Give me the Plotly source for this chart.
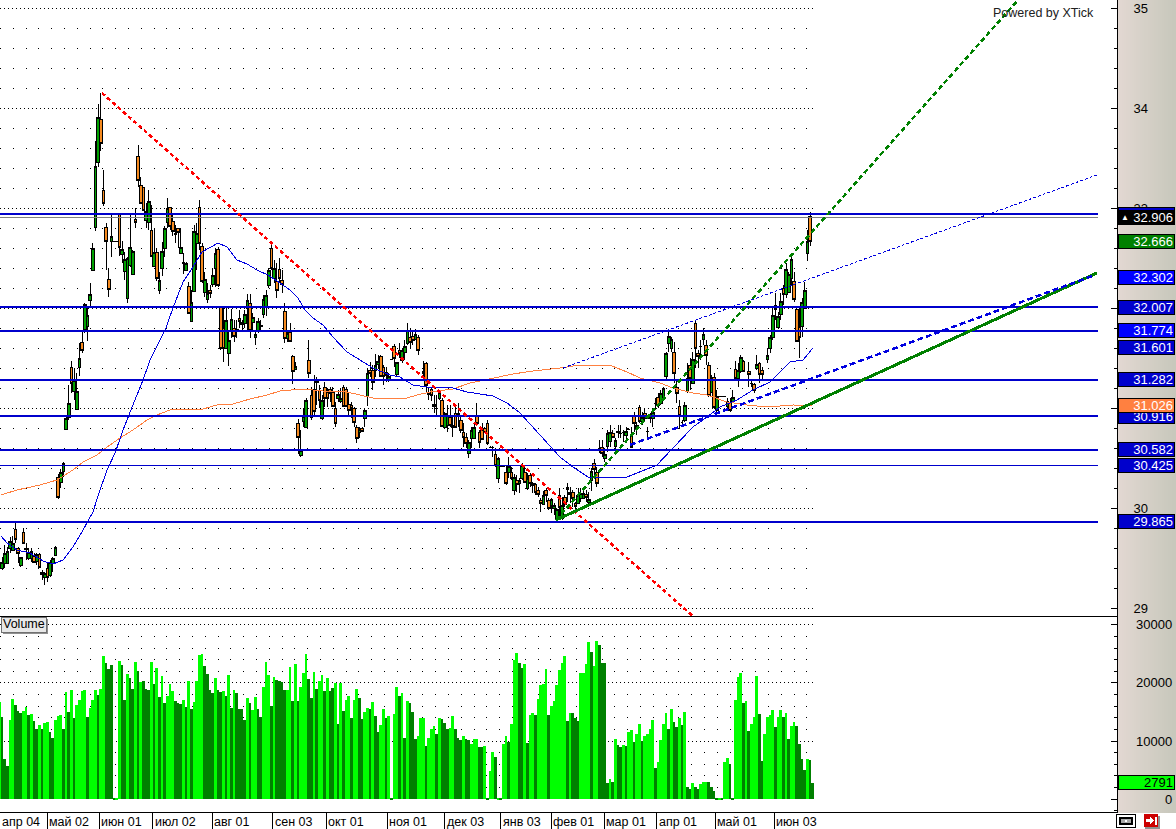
import plotly.graph_objects as go

W, H = 1176, 829

# ---------- candles (index = bar number, "-" = no bar) ----------
bar_kind = ("-gggggoogo" "oggogoogog" "ggoggggogg" "goggggggoo" "oogooogggg"
            "gooooggogo" "ggggoogogo" "gogggooggo" "ggooogggoo" "ooggogggog"
            "ggogoooogo" "ogogggoooo" "ogoooooggo" "ooooogoggo" "oggooogoog"
            "ogggoogo-o" "ooooogoggo" "gooooogggo" "ooooooogoo" "ogogoggogo"
            "oooogooggg" "ogoogooggg" "oggooooggg" "ogooogooog" "ogooogoogg"
            "gggooooggo" "gooogoogog" "ooogogoggo" "-ooogoo-gg" "goggogggoo" "ogggo")

body_top = [
    None,29.46,29.55,29.57,29.67,29.65,29.79,29.60,29.51,29.76,
    29.60,29.56,29.57,29.52,29.54,29.54,29.36,29.35,29.40,29.46,
    29.50,29.61,30.31,30.36,30.45,30.90,31.05,31.41,31.28,31.17,
    31.50,31.66,32.04,31.93,32.14,32.60,33.42,33.91,33.89,33.18,
    32.81,32.29,32.72,32.67,32.67,32.95,32.59,32.49,32.50,32.61,
    32.57,32.89,33.52,33.23,33.21,32.97,33.07,32.78,32.56,32.56,
    32.28,32.57,32.80,33.00,33.01,32.87,32.75,32.80,32.61,32.46,
    32.45,32.22,32.06,32.77,32.75,33.01,32.62,32.29,32.15,32.18,
    32.33,32.55,32.59,32.01,31.80,31.88,31.68,31.89,31.80,31.79,
    31.90,31.86,31.94,32.08,32.05,31.91,31.74,31.87,31.83,32.09,
    32.13,32.38,32.60,32.40,32.27,32.39,32.28,31.97,31.75,31.76,
    31.52,31.42,30.85,30.58,30.92,31.08,31.48,31.13,31.19,31.27,
    31.18,31.08,31.21,31.16,31.19,31.16,31.00,31.14,31.10,31.21,
    31.19,31.04,31.03,31.00,30.81,30.79,30.80,30.98,31.35,31.38,
    31.38,31.43,31.47,31.52,31.41,31.36,31.32,31.49,31.62,31.46,
    31.58,31.58,31.62,31.78,31.71,31.72,31.74,31.71,None,31.37,
    31.45,31.15,31.19,31.04,31.00,31.16,31.08,30.95,30.93,30.91,
    30.83,30.95,30.95,30.88,30.76,30.71,30.66,30.78,30.81,30.92,
    30.76,30.78,30.80,30.85,30.61,30.61,30.54,30.50,30.42,30.42,
    30.36,30.42,30.36,30.31,30.28,30.28,30.43,30.36,30.30,30.33,
    30.25,30.24,30.18,30.08,30.13,30.18,30.08,30.09,30.03,29.99,
    30.13,30.03,30.11,30.21,30.16,30.16,30.05,30.13,30.15,30.15,
    30.14,30.09,30.37,30.45,30.36,30.60,30.61,30.54,30.75,30.76,
    30.75,30.68,30.77,30.75,30.76,30.77,30.79,30.73,30.92,30.83,
    31.01,30.91,30.95,30.77,30.93,30.96,31.05,31.11,31.15,31.20,
    31.55,31.72,31.69,31.56,31.21,31.02,30.86,31.03,31.30,31.43,
    31.49,31.85,31.55,31.62,31.74,31.63,31.43,31.30,31.31,31.12,
    31.12,31.12,31.12,31.07,31.06,31.11,31.39,31.38,31.51,31.47,
    None,31.37,31.25,31.24,31.44,31.45,31.38,None,31.53,31.71,
    31.93,32.03,31.92,32.07,32.20,32.39,32.34,32.49,32.27,31.99,
    31.81,32.06,32.18,32.67,32.92]
body_bot = [
    None,29.40,29.45,29.45,29.60,29.58,29.69,29.55,29.43,29.65,
    29.59,29.50,29.50,29.46,29.47,29.41,29.34,29.31,29.31,29.33,
    29.45,29.53,30.11,30.26,30.37,30.79,30.91,31.25,31.17,30.99,
    31.41,31.58,31.79,31.82,32.08,32.38,32.81,33.46,33.65,33.05,
    32.67,32.19,32.67,32.67,32.67,32.61,32.54,32.37,32.10,32.43,
    32.34,32.86,33.28,33.05,32.98,32.88,32.86,32.52,32.42,32.30,
    32.18,32.40,32.60,32.86,32.82,32.77,32.74,32.76,32.55,32.45,
    32.38,31.95,31.87,32.17,32.65,32.65,32.27,32.16,32.09,32.15,
    32.24,32.40,32.23,31.60,31.60,31.60,31.55,31.78,31.72,31.77,
    31.87,31.84,31.85,32.00,31.78,31.86,31.71,31.78,31.82,31.94,
    32.01,32.23,32.40,32.30,32.18,32.30,32.24,31.70,31.70,31.67,
    31.37,31.39,30.71,30.53,30.87,30.81,31.35,30.91,30.97,31.26,
    31.08,30.90,31.10,31.10,31.15,31.02,30.85,31.10,31.07,31.02,
    31.02,30.98,31.00,30.86,30.70,30.76,30.77,30.90,31.12,31.35,
    31.26,31.38,31.44,31.32,31.32,31.33,31.29,31.49,31.50,31.34,
    31.55,31.48,31.56,31.65,31.66,31.68,31.69,31.58,None,31.35,
    31.23,31.14,31.13,31.02,31.00,31.10,30.82,30.81,30.83,30.83,
    30.81,30.81,30.94,30.78,30.71,30.65,30.55,30.70,30.70,30.85,
    30.66,30.69,30.76,30.65,30.61,30.61,30.43,30.30,30.42,30.42,
    30.25,30.36,30.30,30.18,30.24,30.25,30.30,30.26,30.20,30.25,
    30.23,30.16,30.14,30.05,30.04,30.13,30.00,30.03,30.00,29.90,
    30.01,29.90,30.04,30.19,30.14,30.10,30.02,30.05,30.10,30.10,
    30.11,30.06,30.28,30.39,30.25,30.60,30.55,30.50,30.62,30.67,
    30.71,30.62,30.76,30.75,30.76,30.73,30.79,30.61,30.85,30.80,
    30.87,30.87,30.90,30.77,30.90,30.90,31.05,31.03,31.05,31.11,
    31.32,31.65,31.60,31.35,31.15,30.93,30.86,30.88,31.17,31.30,
    31.25,31.60,31.52,31.62,31.69,31.53,31.13,31.16,31.01,30.98,
    31.12,31.12,31.12,31.02,30.98,31.07,31.30,31.30,31.37,31.37,
    None,31.34,31.25,31.18,31.40,31.34,31.34,None,31.49,31.60,
    31.71,31.99,31.81,31.94,32.14,32.14,32.16,32.30,32.09,31.67,
    31.71,31.82,32.00,32.55,32.67]
wick_high = [
    None,29.51,29.63,29.61,29.71,29.72,29.87,29.61,29.51,29.80,
    29.65,29.60,29.60,29.55,29.55,29.55,29.38,29.36,29.46,29.48,
    29.51,29.62,30.34,30.39,30.46,30.91,31.23,31.47,31.40,31.35,
    31.65,31.78,32.05,32.00,32.25,32.65,33.67,34.04,34.15,33.38,
    32.85,32.40,32.93,32.67,32.67,32.95,32.67,32.56,32.51,32.93,
    32.58,33.00,33.63,33.31,33.21,33.05,33.18,33.03,32.80,32.60,
    32.36,32.66,32.82,33.10,33.01,32.93,32.83,32.80,32.80,32.55,
    32.46,32.26,32.18,32.83,32.85,33.08,32.65,32.36,32.25,32.23,
    32.40,32.60,32.61,32.01,32.00,32.01,31.78,31.99,31.88,31.88,
    31.98,31.88,31.98,32.14,32.14,31.95,31.78,31.90,31.88,32.13,
    32.18,32.40,32.65,32.48,32.45,32.50,32.38,32.05,31.78,31.85,
    31.53,31.46,30.89,30.78,31.00,31.10,31.68,31.21,31.33,31.31,
    31.23,31.13,31.26,31.20,31.21,31.21,31.06,31.18,31.20,31.23,
    31.21,31.15,31.06,31.01,30.83,30.81,30.81,31.00,31.40,31.46,
    31.43,31.54,31.53,31.53,31.43,31.41,31.35,31.49,31.64,31.46,
    31.65,31.60,31.68,31.85,31.80,31.76,31.79,31.73,None,31.47,
    31.46,31.20,31.20,31.13,31.13,31.18,31.10,30.96,31.03,31.03,
    30.91,31.01,31.05,30.93,30.85,30.75,30.68,30.81,30.85,31.05,
    30.78,30.85,30.81,30.88,30.62,30.62,30.60,30.51,30.42,30.42,
    30.43,30.51,30.41,30.34,30.33,30.30,30.45,30.43,30.35,30.35,
    30.26,30.25,30.21,30.10,30.17,30.20,30.10,30.10,30.05,30.00,
    30.20,30.11,30.13,30.25,30.21,30.18,30.06,30.20,30.20,30.20,
    30.18,30.16,30.40,30.49,30.41,30.68,30.68,30.60,30.78,30.83,
    30.78,30.70,30.83,30.83,30.78,30.81,30.80,30.81,30.96,30.86,
    31.03,30.96,31.00,30.81,30.95,30.98,31.10,31.15,31.18,31.21,
    31.56,31.76,31.71,31.66,31.28,31.08,30.88,31.06,31.45,31.50,
    31.56,31.88,31.58,31.68,31.80,31.68,31.46,31.33,31.35,31.18,
    31.12,31.12,31.12,31.10,31.10,31.18,31.47,31.45,31.53,31.48,
    None,31.46,31.28,31.25,31.53,31.46,31.41,None,31.60,31.73,
    32.02,32.15,31.96,32.15,32.23,32.45,32.36,32.53,32.36,32.00,
    32.00,32.10,32.26,32.78,32.96]
wick_low = [
    None,29.38,29.40,29.45,29.55,29.58,29.65,29.45,29.41,29.64,
    29.48,29.48,29.46,29.45,29.43,29.40,29.28,29.23,29.26,29.31,
    29.36,29.53,30.09,30.20,30.31,30.79,30.88,31.15,31.08,30.98,
    31.32,31.55,31.75,31.67,32.01,32.37,32.77,33.41,33.57,33.02,
    32.38,32.11,32.51,32.67,32.67,32.52,32.45,32.28,32.05,32.41,
    32.33,32.80,33.21,33.05,32.98,32.80,32.78,32.51,32.41,32.27,
    32.14,32.32,32.51,32.80,32.78,32.72,32.65,32.60,32.55,32.34,
    32.38,31.95,31.87,32.17,32.38,32.58,32.25,32.11,32.05,32.10,
    32.21,32.21,32.21,31.58,31.46,31.60,31.42,31.70,31.66,31.70,
    31.80,31.78,31.80,31.78,31.70,31.78,31.63,31.75,31.78,31.90,
    31.92,32.20,32.38,32.25,32.10,32.25,32.15,31.65,31.66,31.66,
    31.24,31.38,30.54,30.51,30.81,30.80,31.30,30.88,30.91,31.03,
    31.00,30.88,31.01,31.01,31.06,31.01,30.81,31.06,31.05,31.01,
    31.01,30.93,30.90,30.81,30.65,30.70,30.76,30.81,31.02,31.31,
    31.18,31.31,31.39,31.31,31.23,31.26,31.26,31.49,31.41,31.32,
    31.50,31.45,31.48,31.63,31.60,31.63,31.68,31.53,None,31.28,
    31.16,31.08,31.07,30.95,30.92,31.08,30.81,30.79,30.76,30.81,
    30.71,30.80,30.81,30.75,30.61,30.60,30.50,30.60,30.70,30.83,
    30.60,30.68,30.75,30.63,30.60,30.51,30.41,30.25,30.42,30.42,
    30.23,30.30,30.28,30.13,30.16,30.15,30.28,30.25,30.18,30.21,
    30.15,30.13,30.11,29.96,30.03,30.06,29.98,29.95,29.93,29.89,
    29.91,29.88,30.01,30.06,30.05,30.01,29.98,30.04,30.06,30.10,
    30.06,30.01,30.17,30.30,30.21,30.55,30.51,30.46,30.56,30.61,
    30.70,30.57,30.70,30.70,30.66,30.65,30.78,30.61,30.76,30.73,
    30.85,30.83,30.86,30.68,30.85,30.81,30.98,31.00,31.03,31.11,
    31.29,31.56,31.56,31.25,31.05,30.79,30.81,30.86,31.15,31.18,
    31.25,31.40,31.40,31.48,31.63,31.43,31.11,31.15,30.99,30.93,
    31.12,31.12,31.12,30.98,30.96,31.06,31.30,31.21,31.35,31.36,
    None,31.21,31.21,31.15,31.38,31.25,31.28,None,31.45,31.55,
    31.68,31.88,31.79,31.88,32.03,32.10,32.15,32.23,32.06,31.66,
    31.50,31.71,31.99,32.47,32.62]

# ---------- moving averages (bar number, price) ----------
ma_blue_bar = [0.6,2.9,6.6,11.5,16.4,20.1,23.9,27.6,31.4,35.1,37.75,40.4,43.4,46.4,50.1,53.9,56.5,61.4,62.5,65.1,
               68.9,72.6,76,82,85.4,89.1,92.9,96.6,100.75,105.25,109,112,114.6,117.6,121.4,125.1,130.4,135.25,140.1,
               146.5,150.25,155.1,160.4,170.1,175.4,185.1,190.4,195.25,200.1,205.4,210.25,215.1,220.75,227.9,235.4,
               246.6,252.6,260.1,265.4,270.25,276.6,282.6,289,296.5,301.4,305.1]
ma_blue_val = [29.72,29.65,29.58,29.55,29.47,29.44,29.48,29.61,29.78,29.96,30.18,30.38,30.55,30.78,31.03,31.28,31.48,31.75,31.80,32.00,
               32.26,32.41,32.56,32.65,32.61,32.48,32.44,32.38,32.33,32.25,32.18,32.10,31.98,31.90,31.83,31.71,31.56,31.48,31.40,
               31.33,31.31,31.23,31.21,31.20,31.16,31.12,31.05,30.95,30.81,30.65,30.51,30.41,30.31,30.30,30.31,
               30.43,30.60,30.81,30.91,31.01,31.08,31.18,31.26,31.46,31.48,31.601]
ma_orange_bar = [0.6,6.6,15.25,21.6,27.6,31.4,36.6,40.4,45.25,50.1,55.4,59.1,64,76.4,81.6,87.6,94,100.4,105.25,113.9,121.4,
                 130.4,135.25,140.1,152.9,156.6,161.5,170.1,176.5,185.1,192.6,200.1,210.25,217.75,225.25,229.75,235.4,240.25,
                 247.75,252.6,260.1,265.4,272.9,280.4,287.9,297.6,304.75]
ma_orange_val = [30.13,30.18,30.23,30.28,30.38,30.46,30.53,30.61,30.70,30.78,30.88,30.93,30.98,30.99,31.03,31.04,31.09,31.13,31.17,31.19,31.17,
                 31.16,31.13,31.10,31.10,31.13,31.16,31.19,31.25,31.30,31.34,31.37,31.40,31.43,31.43,31.42,31.36,31.30,
                 31.25,31.20,31.15,31.13,31.06,31.03,31.01,31.03,31.026]

# ---------- trend lines: (bar0, price0, bar1, price1) ----------
red_trend = [38.5, 34.15, 260.0, 28.92]
green_solid = [208.75, 29.88, 411.6, 32.35]
green_dash = [208.75, 29.88, 382.0, 35.08]
blue_dash = [236.5, 30.63, 410.9, 32.33]
blue_thin = [211.4, 31.40, 411.6, 33.33]

# ---------- horizontal levels ----------
level_thick = [32.94, 32.007, 31.774, 31.282, 30.916, 30.582, 29.865]
level_thin = [30.425]
level_last = 32.906

# ---------- price tags on the right ----------
tag_text = ["32.94", "32.906", "32.666", "32.302", "32.007", "31.774", "31.601", "31.282",
            "30.916", "31.026", "30.582", "30.425", "29.865"]
tag_value = [32.94, 32.906, 32.666, 32.302, 32.007, 31.774, 31.601, 31.282,
             30.916, 31.026, 30.582, 30.425, 29.865]
tag_color = ["#0000CC", "#000000", "#008000", "#0000FF", "#0000CC", "#0000FF", "#0000CC", "#0000CC",
             "#0000CC", "#FF8040", "#0000CC", "#0000CC", "#0000CC"]

# ---------- volume ----------
volume = [
    16720,14200,6930,5720,13620,17230,16200,15170,14830,15170,
    15860,14480,14650,13450,12080,12760,12080,13110,13280,11560,
    10530,13620,14310,14480,12080,18430,15000,18780,13970,16200,
    17060,18610,18780,14140,15690,17060,18780,17920,18950,24620,
    23410,22390,23070,230,230,23760,23070,17060,21530,20840,
    18950,23590,22040,20150,20320,18950,18780,23590,19810,22560,
    17570,21180,16550,17750,19810,18610,16890,16550,16370,17060,
    15860,20320,15510,16720,20320,24790,24960,22900,21530,18780,
    18260,20840,18780,18430,18610,17750,21350,15690,18780,18260,
    15510,15510,13620,17400,16550,15340,17570,15510,14140,19290,
    23590,21350,16030,21010,20500,20320,20150,18780,18780,22730,
    16890,23240,
    16890,19290,21700,24960,20670,17400,21870,18950,20320,21350,
    18610,20840,18610,19120,19980,12940,19980,15170,17060,17750,
    13970,17060,18950,17400,13790,15000,15690,15510,16720,14310,
    11560,12760,15510,13970,14310,230,14650,19290,17750,18260,
    10530,16890,16550,15000,10360,10880,13970,13970,9160,10530,
    12080,12590,11220,13970,13790,13110,12080,12250,14310,12080,
    10530,10190,10880,10360,10190,9500,10360,10360,8990,8990,
    9160,230,4870,8130,7270,230,230,9500,10880,9850,
    12940,23930,25130,23410,22560,23240,9680,14480,14830,14480,
    17230,19640,19810,22390,14480,16030,16890,19640,22210,23410,
    24620,13450,14830,14830,13970,13450,
    21700,21700,23240,27020,25300,22900,27190,26510,23410,23410,
    2800,3490,2970,10360,9330,8990,9330,9160,11560,11910,
    9850,11220,12940,10020,10880,11220,12080,13620,5380,6410,
    10190,12940,14830,12080,15510,13280,12420,13970,12760,15000,
    2120,1770,2800,2120,1770,2630,2970,2970,2970,2120,
    1430,230,230,230,6410,7100,6070,230,17060,21010,
    21700,16550,16890,11730,12940,14140,21180,14650,6580,11220,
    14140,14480,15340,12420,14140,15340,14140,14830,10360,12590,
    13280,12590,9500,6930,5040,6930,6760,2791]
volume_kind = ("LDDDLLDDDL" "LDLDDLDLLD" "DLLLDLDLDL" "LLLDLLLDLL" "DDDDLLDDLD" "DLDLDDDLDL"
               "DLDLLLDDDL" "DLDLLLLDDD" "DLDDLDLDLD" "DDDLDLLDDL" "LLDLDDDDLL" "DL"
               "DLLLDDLDLL" "DLDDLDLDLL" "DLLDDLLDLD" "DLLDLDLLDL" "DLDDDLLLDL" "LLDLDDDLLD"
               "DDLDDLLLDD" "LDLLDLDLLD" "LLLDDLDLLD" "LLLLDLLLLL" "LDLDDD"
               "LLLLDLLDDD" "DLDLDDLDLL" "DLLDLLLLDL" "LLLDLDDLDL" "DDLDDLLLDD"
               "DDLDLLDDLL" "LDLDLLLDDL" "LLLDLLDLDL" "LDDDDLDD")
volume_tag = 2791
volume_axis_labels = [30000, 20000, 10000, 0]

# ---------- month axis ----------
month_labels = ["май 02", "июн 01", "июл 02", "авг 01", "сен 03", "окт 01", "ноя 01", "дек 03",
                "янв 03", "фев 01", "мар 01", "апр 01", "май 01", "июн 03"]
month_bars = [17.9, 37.4, 57.6, 79.75, 102.6, 122.5, 145.4, 167.1, 188.1, 206.9, 226.75, 246.6, 268.4, 290.5]
first_label = "апр 04"

X0, X1 = 0.25, 419.125      # bar-number range of the 1117 px wide plot
GRID_END = 305              # grid stops at the last bar
LINE_END = 412              # levels stop here
FONT = "Liberation Sans"

def px(x):  # horizontal pixel -> paper
    return x / W
def py(y):  # vertical pixel -> paper
    return 1 - y / H

def rect(x0, y0, x1, y1, fill, line=None, lw=1, layer="above"):
    return dict(type="rect", xref="paper", yref="paper", x0=px(x0), x1=px(x1), y0=py(y0), y1=py(y1),
                fillcolor=fill, line=dict(color=line or fill, width=lw if line else 0), layer=layer)

bars = list(range(len(body_top)))
opens = [None if t is None else (b if k == "g" else t) for t, b, k in zip(body_top, body_bot, bar_kind)]
closes = [None if t is None else (t if k == "g" else b) for t, b, k in zip(body_top, body_bot, bar_kind)]
vol_bars = [305 - len(volume) + 1 + i for i in range(len(volume))]
vol_colors = ["#00FF00" if k == "L" else "#008000" for k in volume_kind]

fig = go.Figure()
fig.add_trace(go.Bar(x=vol_bars, y=volume, xaxis="x2", yaxis="y2", width=1, marker=dict(color=vol_colors, line=dict(width=0)),
                     hoverinfo="skip", showlegend=False))
fig.add_trace(go.Candlestick(x=bars, open=opens, high=wick_high, low=wick_low, close=closes,
                             increasing=dict(fillcolor="#00A000", line=dict(color="#000000", width=1)),
                             decreasing=dict(fillcolor="#F58A1F", line=dict(color="#000000", width=1)),
                             whiskerwidth=0, hoverinfo="skip", showlegend=False))

def line(xs, ys, color, width, dash="solid"):
    fig.add_trace(go.Scatter(x=xs, y=ys, mode="lines", line=dict(color=color, width=width, dash=dash),
                             hoverinfo="skip", showlegend=False))

line(ma_orange_bar, ma_orange_val, "#FF8040", 1)
line(ma_blue_bar, ma_blue_val, "#0000E0", 1)
for lv in level_thick:
    line([X0, LINE_END], [lv, lv], "#0000CC", 2)
for lv in level_thin:
    line([X0, LINE_END], [lv, lv], "#0000CC", 1)
line([X0, LINE_END], [level_last, level_last], "#808080", 1)
line(red_trend[0::2], red_trend[1::2], "#FF0000", 2.5, "4px,3px")
line(green_solid[0::2], green_solid[1::2], "#008000", 3)
line(green_dash[0::2], green_dash[1::2], "#008000", 2.5, "5px,3px")
line(blue_dash[0::2], blue_dash[1::2], "#0000E0", 2.5, "6px,3px")
line(blue_thin[0::2], blue_thin[1::2], "#0000E0", 1, "3px,2px")

shapes = []
# right panel gradient
for i in range(29):
    t = i / 28
    c = "rgb(%d,%d,%d)" % (226 - 26 * t, 216 - 16 * t, 210 - 22 * t)
    shapes.append(rect(1118 + 2 * i, 0, 1120 + 2 * i, 812.5, c, layer="below"))
# dotted grids
for k in range(29, 36):
    shapes.append(dict(type="line", xref="x", yref="y", x0=X0, x1=GRID_END, y0=k, y1=k, layer="below",
                       line=dict(color="black", width=1, dash="1px,3px")))
for k in range(146, 176):
    if k % 5:
        v = k / 5
        shapes.append(dict(type="line", xref="x", yref="y", x0=X0, x1=GRID_END, y0=v, y1=v, layer="below",
                           line=dict(color="black", width=1, dash="1px,11.8px")))
for v in range(2000, 30001, 2000):
    d = "1px,3px" if v % 10000 == 0 else "1px,11.8px"
    shapes.append(dict(type="line", xref="x2", yref="y2", x0=X0, x1=GRID_END, y0=v, y1=v, layer="below",
                       line=dict(color="black", width=1, dash=d)))
# Volume button
shapes.append(rect(3, 619, 48, 634, "#909090"))
shapes.append(rect(1, 617, 46, 632, "#E8E8E8", "#707070"))
# link and exit icons
shapes.append(rect(1116.5, 814.5, 1135.5, 827.5, "#FFFFFF", "#000000"))
shapes.append(rect(1120, 818, 1132, 824, "#A8A8A8", "#000000", 1.5))
shapes.append(rect(1125, 820, 1127, 822, "#FFFFFF"))
shapes.append(rect(1145, 816, 1160, 829, "#909090"))
shapes.append(rect(1144, 814, 1158, 827, "#CC0000"))
arrow = [(1146, 819), (1150, 819), (1150, 816.5), (1154, 820.5), (1150, 824.5), (1150, 822), (1146, 822)]
shapes.append(dict(type="path", xref="paper", yref="paper", layer="above", fillcolor="white", line=dict(width=0),
                   path="M" + " L".join("%.5f,%.5f" % (px(a), py(b)) for a, b in arrow) + " Z"))
shapes.append(rect(1155, 816.5, 1157, 824.5, "#FFFFFF"))

ann = []
def text(x, y, t, anchor="left", color="black", size=13, xref="paper", yref="paper", **kw):
    ann.append(dict(x=x, y=y, text=t, xref=xref, yref=yref, xanchor=anchor, yanchor="middle", showarrow=False,
                    font=dict(family=FONT, size=size, color=color), **kw))

for t, v, c in zip(tag_text, tag_value, tag_color):
    text(px(1118), v, t, color="white", yref="y", bgcolor=c, bordercolor="black", borderwidth=1,
         width=53, height=11, align="right", borderpad=1)
text(px(1119), 32.906, "▲", color="white", size=8, yref="y")
text(px(1118), volume_tag, str(volume_tag), yref="y2", bgcolor="#00FF00", bordercolor="black", borderwidth=1,
     width=53, height=11, align="right", borderpad=1)
for v in volume_axis_labels:
    text(px(1174), v, str(v), anchor="right", yref="y2", size=13)
text(px(0), py(822), first_label, size=12.5)
for b, t in zip(month_bars, month_labels):
    text(b, py(822), t, xref="x2", xshift=0, size=12.5)
text(px(1), py(624), "Volume", size=12.5)
text(px(1096), py(13), "Powered by XTick", anchor="right", color="#202020", size=12.5)

fig.update_layout(
    width=W, height=H, autosize=False, margin=dict(l=0, r=0, t=0, b=0, pad=0),
    paper_bgcolor="white", plot_bgcolor="white", showlegend=False, bargap=0, hovermode=False,
    boxgap=0, boxgroupgap=0,
    shapes=shapes, annotations=ann,
    xaxis=dict(domain=[0, 1117 / W], range=[X0, X1], anchor="y", showgrid=False, zeroline=False,
               showticklabels=False, ticks="", rangeslider=dict(visible=False), showline=True,
               linecolor="black", linewidth=1, mirror=True),
    xaxis2=dict(domain=[0, 1117 / W], range=[X0, X1], anchor="y2", showgrid=False, zeroline=False,
                showticklabels=False, tickmode="array", tickvals=month_bars, ticks="outside", ticklen=17,
                tickcolor="black", showline=True, linecolor="black", linewidth=1),
    yaxis=dict(domain=[1 - 616 / H, 1], range=[28.92, 35.08], anchor="x", side="right", showgrid=False, zeroline=False,
               tick0=29, dtick=1, ticks="inside", ticklen=6, tickcolor="black",
               minor=dict(tick0=29, dtick=0.2, ticks="inside", ticklen=3, tickcolor="black", showgrid=False),
               showline=True, linecolor="black", linewidth=1, ticklabelstandoff=13,
               tickfont=dict(family=FONT, size=13, color="black")),
    yaxis2=dict(domain=[1 - 812 / H, 1 - 617 / H], range=[-2200, 31334], anchor="x2", side="right", showgrid=False,
                zeroline=False, showticklabels=False, tick0=0, dtick=10000, ticks="inside", ticklen=6, tickcolor="black",
                minor=dict(tick0=0, dtick=2000, ticks="inside", ticklen=3, tickcolor="black", showgrid=False),
                showline=True, linecolor="black", linewidth=1),
)

# the reference chart is drawn without anti-aliasing
crisp = ("document.body.style.margin='0';document.body.style.overflow='hidden';"
         "document.querySelectorAll('svg.main-svg path').forEach(function(p){p.style.shapeRendering='crispEdges';});")
fig.write_html("out.html", config=dict(displayModeBar=False), post_script=crisp)
